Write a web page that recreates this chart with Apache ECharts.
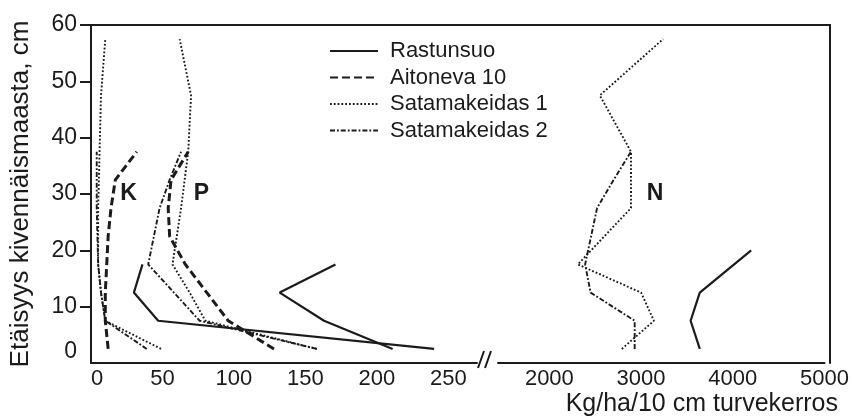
<!DOCTYPE html>
<html>
<head>
<meta charset="utf-8">
<script src="https://cdn.jsdelivr.net/npm/echarts@6/dist/echarts.min.js"></script>
<style>
  html, body { margin: 0; padding: 0; background: #fff; }
  #chart { width: 852px; height: 419px; }
</style>
</head>
<body>
<div id="chart"></div>
<script>
// Nutrient amounts (kg/ha per 10 cm peat layer) against distance above the mineral soil (cm).
// K and P share the left part of the broken x axis, N sits on the right part.

const siteNames = ['Rastunsuo', 'Aitoneva 10', 'Satamakeidas 1', 'Satamakeidas 2'];

// Rastunsuo
const rastunsuoDepth = [2.5, 7.5, 12.5, 17.5];
const rastunsuoK = [240, 47, 30, 36];
const rastunsuoP = [211, 163, 132, 171];
const rastunsuoNDepth = [2.5, 7.5, 12.5, 20];
const rastunsuoN = [3640, 3540, 3640, 4200];

// Aitoneva 10
const aitonevaDepth = [2.5, 7.5, 12.5, 17.5, 22.5, 27.5, 32.5, 37.5];
const aitonevaK = [12, 10, 10, 11, 12, 14, 17, 32];
const aitonevaP = [128, 96, 81, 66, 55, 54, 56, 68];

// Satamakeidas 1
const sat1Depth = [2.5, 7.5, 12.5, 17.5, 27.5, 37.5, 47.5, 57.5];
const sat1K = [49, 10, 7, 5, 5, 6, 7, 10];
const sat1P = [158, 80, 69, 57, 63, 68, 70, 62];
const sat1N = [2790, 3140, 3000, 2310, 2890, 2890, 2550, 3240];

// Satamakeidas 2
const sat2Depth = [2.5, 7.5, 12.5, 17.5, 27.5, 32.5, 37.5];
const sat2K = [39, 10, 7, 5, 4, 4, 4];
const sat2P = [158, 76, 58, 40, 48, 55, 63];
const sat2N = [2930, 2930, 2450, 2390, 2520, 2700, 2890];

// Axis ticks
const depthTicks = [0, 10, 20, 30, 40, 50, 60];
const depthTickMarks = [10, 20, 30, 40, 50, 60];
const lowTicks = [0, 50, 100, 150, 200, 250];
const highTicks = [2000, 3000, 4000, 5000];

const ink = '#1b1b1b';
const font = '"Liberation Sans", Arial, Helvetica, sans-serif';

const pairs = (xs, ys) => xs.map((x, i) => [x, ys[i]]);
const plain = v => String(v);

const styles = {
  'Rastunsuo':      { type: 'solid', width: 2.2 },
  'Aitoneva 10':    { type: [8, 4], width: 3 },
  'Satamakeidas 1': { type: [1.8, 2], width: 1.9 },
  'Satamakeidas 2': { type: [5, 2, 1.8, 2], width: 1.9 }
};

function line(name, xs, ys, axis) {
  return {
    type: 'line',
    name: name,
    xAxisIndex: axis,
    yAxisIndex: axis,
    data: pairs(xs, ys),
    symbol: 'none',
    showSymbol: false,
    silent: true,
    animation: false,
    lineStyle: { color: ink, width: styles[name].width, type: styles[name].type },
    itemStyle: { color: ink },
    z: 3
  };
}

const series = [
  line('Rastunsuo', rastunsuoK, rastunsuoDepth, 0),
  line('Rastunsuo', rastunsuoP, rastunsuoDepth, 0),
  line('Rastunsuo', rastunsuoN, rastunsuoNDepth, 1),
  line('Aitoneva 10', aitonevaK, aitonevaDepth, 0),
  line('Aitoneva 10', aitonevaP, aitonevaDepth, 0),
  line('Satamakeidas 1', sat1K, sat1Depth, 0),
  line('Satamakeidas 1', sat1P, sat1Depth, 0),
  line('Satamakeidas 1', sat1N, sat1Depth, 1),
  line('Satamakeidas 2', sat2K, sat2Depth, 0),
  line('Satamakeidas 2', sat2P, sat2Depth, 0),
  line('Satamakeidas 2', sat2N, sat2Depth, 1)
];

const axisLine = { show: true, onZero: false, lineStyle: { color: ink, width: 2 } };

const chart = echarts.init(document.getElementById('chart'), null, { renderer: 'canvas' });
chart.setOption({
  animation: false,
  backgroundColor: '#fff',
  grid: [
    { left: 91, right: 375, top: 25, bottom: 56 },
    { left: 498, right: 22, top: 25, bottom: 56 },
    { left: 91, right: 22, top: 25, bottom: 56 }
  ],
  xAxis: [
    {
      gridIndex: 0, type: 'value', min: 0, max: 270,
      axisLine: axisLine, axisTick: { show: false }, splitLine: { show: false },
      axisLabel: {
        customValues: lowTicks, formatter: plain, color: ink, fontSize: 22, fontFamily: font, margin: 5,
        alignMinLabel: 'left'
      }
    },
    {
      gridIndex: 1, type: 'value', min: 1440, max: 5000,
      axisLine: axisLine, axisTick: { show: false }, splitLine: { show: false },
      axisLabel: {
        customValues: highTicks, formatter: plain, color: ink, fontSize: 22, fontFamily: font, margin: 5
      }
    },
    {
      gridIndex: 2, type: 'value', position: 'top', min: 0, max: 1,
      axisLine: axisLine, axisTick: { show: false }, axisLabel: { show: false },
      splitLine: { show: false }
    }
  ],
  yAxis: [
    {
      gridIndex: 0, type: 'value', min: 0, max: 60,
      axisLine: axisLine,
      axisTick: { show: true, customValues: depthTickMarks, length: 11, lineStyle: { color: ink, width: 2 } },
      splitLine: { show: false },
      axisLabel: {
        customValues: depthTicks, formatter: plain, color: ink, fontSize: 23, fontFamily: font, margin: 14,
        verticalAlignMinLabel: 'bottom'
      },
      name: 'Etäisyys kivennäismaasta, cm',
      nameLocation: 'middle',
      nameGap: 57,
      nameTextStyle: { color: ink, fontSize: 26, fontFamily: font }
    },
    { gridIndex: 1, type: 'value', min: 0, max: 60, show: false },
    {
      gridIndex: 2, type: 'value', position: 'right', min: 0, max: 1,
      axisLine: axisLine, axisTick: { show: false }, axisLabel: { show: false },
      splitLine: { show: false }
    }
  ],
  legend: {
    orient: 'vertical',
    left: 329,
    top: 40,
    padding: 0,
    itemWidth: 48,
    itemHeight: 14,
    itemGap: 4.5,
    data: siteNames,
    selectedMode: false,
    itemStyle: { opacity: 0, borderWidth: 0 },
    textStyle: { color: ink, fontSize: 22, lineHeight: 22, fontFamily: font, padding: [0, 0, 0, 7] }
  },
  graphic: [
    { type: 'text', x: 128.5, y: 193.5, style: { text: 'K', font: 'bold 23px ' + font, fill: ink, textAlign: 'center', textVerticalAlign: 'middle' } },
    { type: 'text', x: 201.5, y: 193.5, style: { text: 'P', font: 'bold 23px ' + font, fill: ink, textAlign: 'center', textVerticalAlign: 'middle' } },
    { type: 'text', x: 655, y: 193.5, style: { text: 'N', font: 'bold 23px ' + font, fill: ink, textAlign: 'center', textVerticalAlign: 'middle' } },
    // axis break mark
    { type: 'line', shape: { x1: 478, y1: 368, x2: 484, y2: 351 }, style: { stroke: ink, lineWidth: 2 } },
    { type: 'line', shape: { x1: 485, y1: 368, x2: 491, y2: 351 }, style: { stroke: ink, lineWidth: 2 } },
    {
      type: 'text', right: 14, top: 392,
      style: { text: 'Kg/ha/10 cm turvekerros', font: '25px ' + font, fill: ink }
    }
  ],
  series: series
});
</script>
</body>
</html>
